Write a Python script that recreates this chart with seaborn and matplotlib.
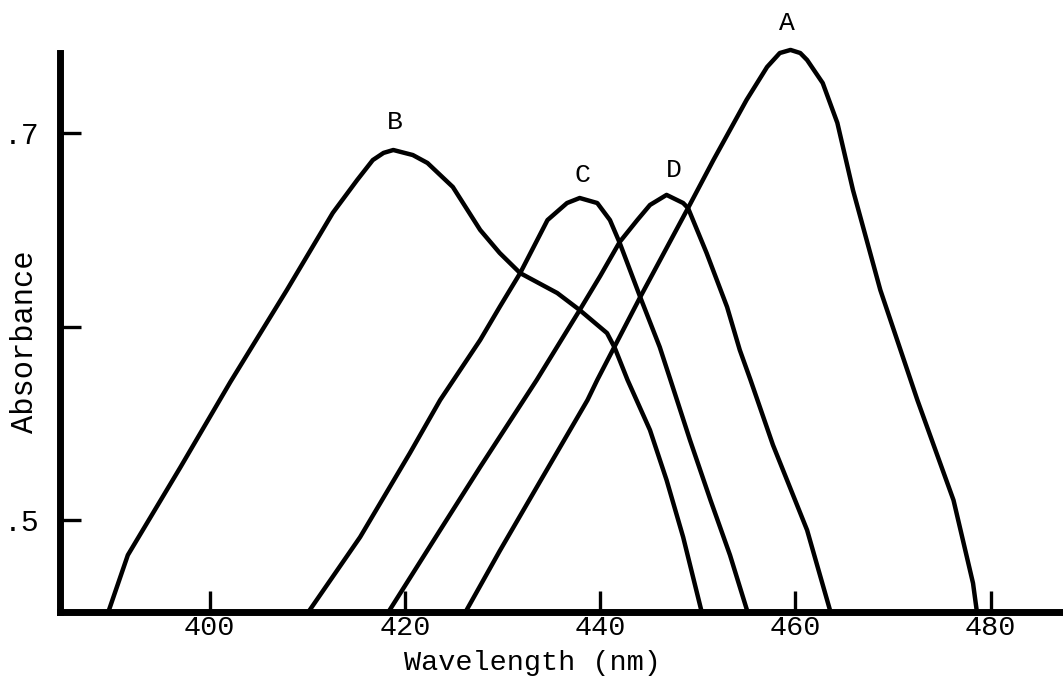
import numpy as np
import pandas as pd
import matplotlib
matplotlib.use("Agg")
import matplotlib.pyplot as plt
import seaborn as sns

# ---- data (wavelength in nm, absorbance) ----
wl_A = [426.2, 429.7, 433.8, 438.7, 439.7, 444.1, 449.0, 451.6, 455.0, 457.1, 458.4,
        459.5, 460.5, 461.2, 462.8, 464.3, 465.9, 468.7, 472.5, 476.2, 478.2, 478.6]
abs_A = [0.4525, 0.4840, 0.5196, 0.5620, 0.5724, 0.6152, 0.6612, 0.6860, 0.7171, 0.7341, 0.7413,
         0.7429, 0.7413, 0.7377, 0.7258, 0.7052, 0.6705, 0.6189, 0.5620, 0.5103, 0.4674, 0.4525]

wl_B = [389.6, 391.6, 397.0, 402.1, 407.9, 412.6, 415.1, 416.7, 417.8, 418.8,
        420.8, 422.3, 424.9, 427.7, 429.7, 431.8, 435.6, 437.9, 440.7, 441.5, 442.8, 445.1,
        446.8, 448.5, 450.4]
abs_B = [0.4525, 0.4819, 0.5274, 0.5713, 0.6189, 0.6587, 0.6757, 0.6860, 0.6897, 0.6912,
         0.6886, 0.6845, 0.6721, 0.6499, 0.6380, 0.6276, 0.6173, 0.6085, 0.5966, 0.5889, 0.5724, 0.5465,
         0.5207, 0.4912, 0.4525]

wl_C = [410.1, 415.4, 420.5, 423.6, 427.7, 429.7, 431.8, 434.6, 436.6, 437.9, 439.7, 441.0,
        442.0, 444.1, 446.1, 447.2, 449.2, 451.3, 453.3, 455.1]
abs_C = [0.4525, 0.4912, 0.5346, 0.5620, 0.5930, 0.6101, 0.6276, 0.6550, 0.6638, 0.6664, 0.6638, 0.6550,
         0.6432, 0.6152, 0.5894, 0.5724, 0.5413, 0.5103, 0.4819, 0.4525]

wl_D = [418.3, 423.6, 427.7, 433.5, 437.9, 440.0, 442.0, 443.8, 445.1, 446.8, 448.5, 449.0,
        450.9, 453.0, 454.3, 455.4, 457.7, 461.2, 463.6]
abs_D = [0.4525, 0.4948, 0.5274, 0.5724, 0.6085, 0.6261, 0.6437, 0.6550, 0.6628, 0.6680, 0.6638, 0.6612,
         0.6380, 0.6101, 0.5879, 0.5724, 0.5388, 0.4948, 0.4525]

curve_names = ["A", "B", "C", "D"]
label_x = [459.1, 419.0, 438.2, 447.5]
label_y = [0.7568, 0.7057, 0.6783, 0.6809]

x_ticks = [400, 420, 440, 460, 480]
y_ticks = [0.5, 0.6, 0.7]
y_tick_labels = [".5", "", ".7"]

frames = []
for name, wl, ab in zip(curve_names, [wl_A, wl_B, wl_C, wl_D], [abs_A, abs_B, abs_C, abs_D]):
    frames.append(pd.DataFrame({"wavelength": wl, "absorbance": ab, "curve": name}))
df = pd.concat(frames, ignore_index=True)

# ---- style ----
sns.set_theme(style="white")
plt.rcParams["font.family"] = ["Liberation Mono", "DejaVu Sans Mono"]
plt.rcParams["text.color"] = "black"
plt.rcParams["axes.labelcolor"] = "black"
plt.rcParams["xtick.color"] = "black"
plt.rcParams["ytick.color"] = "black"

W, H = 1063, 679
fig = plt.figure(figsize=(W / 100, H / 100), dpi=100)
fig.patch.set_facecolor("white")
ax = fig.add_axes([60 / W, 67 / H, 1003 / W, 612 / H])
ax.set_facecolor("white")

sns.lineplot(data=df, x="wavelength", y="absorbance", hue="curve",
             palette=["black"] * 4, legend=False, estimator=None, sort=False,
             linewidth=3.2, ax=ax)
for line in ax.get_lines():
    line.set_solid_joinstyle("round")
    line.set_solid_capstyle("round")

ymin, ymax = 0.4525, 0.7687
ax.set_xlim(384.65, 487.42)
ax.set_ylim(ymin, ymax)

for name, lx, ly in zip(curve_names, label_x, label_y):
    ax.text(lx, ly, name, ha="center", va="center", fontsize=19,
            family=["Liberation Mono", "DejaVu Sans Mono"])

ax.spines["top"].set_visible(False)
ax.spines["right"].set_visible(False)
for s in ["left", "bottom"]:
    ax.spines[s].set_linewidth(5)
    ax.spines[s].set_color("black")
ax.spines["left"].set_bounds(ymin, 0.7413)

ax.set_xticks(x_ticks)
ax.set_xticklabels([str(t) for t in x_ticks])
ax.set_yticks(y_ticks)
ax.set_yticklabels(y_tick_labels)
ax.tick_params(axis="x", bottom=True, direction="in", length=15, width=2.4,
               pad=2, labelsize=20.5)
ax.tick_params(axis="y", left=True, direction="in", length=15, width=2.4,
               pad=15, labelsize=21.5)

ax.set_xlabel("Wavelength (nm)", fontsize=20.5)
ax.set_ylabel("Absorbance", fontsize=22)
ax.xaxis.set_label_coords(0.4706, -0.0833)
ax.xaxis.label.set_va("center")
ax.yaxis.set_label_coords(-0.035, 0.441)
ax.yaxis.label.set_va("center")

fig.savefig("out.png", dpi=100, facecolor="white")
